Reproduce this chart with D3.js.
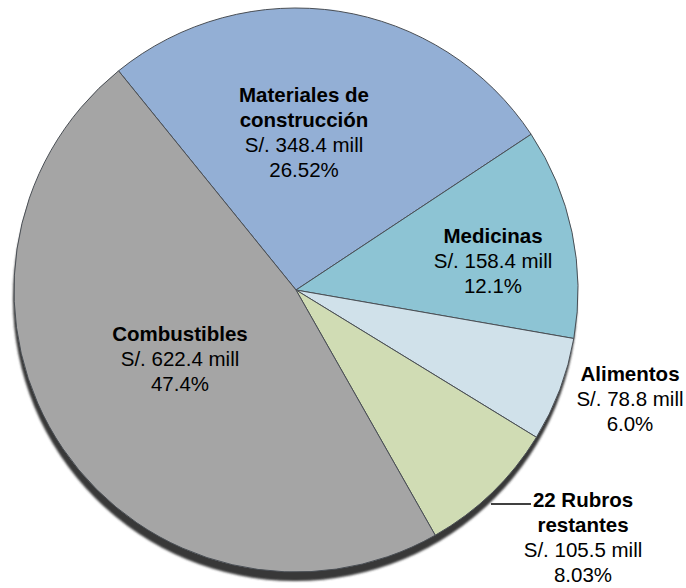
<!DOCTYPE html>
<html>
  <head>
    <meta charset="utf-8">
    <title>Pie</title>
    <script src="https://d3js.org/d3.v7.min.js"></script>
    <style>
      body { margin: 0; background: #fff; }
      #chart text { font-family: "Liberation Sans", Arial, sans-serif; font-size: 20.5px; fill: #000; text-anchor: middle; }
      #chart .name { font-weight: bold; }
    </style>
  </head>
  <body>
    <svg id="chart"></svg>
    <script>
      // data
      var categories = ["Materiales de construcción", "Medicinas", "Alimentos", "22 Rubros restantes", "Combustibles"];
      var values = [348.4, 158.4, 78.8, 105.5, 622.4];
      var pctLabels = ["26.52%", "12.1%", "6.0%", "8.03%", "47.4%"];
      var nameLines = [["Materiales de", "construcción"], ["Medicinas"], ["Alimentos"], ["22 Rubros", "restantes"], ["Combustibles"]];
      var colors = ["#93afd5", "#8dc4d4", "#d0e1ea", "#d0dcb4", "#a5a5a5"];

      var width = 686, height = 588;
      var cx = 296, cy = 290, r = 282;

      // label anchors (x, baseline of first line)
      var labelPos = [[304, 102], [493, 243], [630, 381], [583, 507], [180, 341]];

      var svg = d3.select("#chart")
          .attr("width", width)
          .attr("height", height);

      var defs = svg.append("defs");
      defs.append("filter").attr("id", "blur")
        .append("feGaussianBlur").attr("stdDeviation", 0.8);

      var g = svg.append("g").attr("transform", "translate(" + cx + "," + cy + ")");

      // shadow
      g.append("circle")
          .attr("cx", -1).attr("cy", 9).attr("r", r)
          .attr("fill", "#383838")
          .attr("filter", "url(#blur)");

      var pie = d3.pie().sort(null)
          .startAngle(-39 * Math.PI / 180)
          .endAngle(321 * Math.PI / 180);
      var arc = d3.arc().innerRadius(0).outerRadius(r);

      g.selectAll("path.slice")
          .data(pie(values))
          .enter().append("path")
          .attr("class", "slice")
          .attr("d", arc)
          .attr("fill", function(d, i) { return colors[i]; })
          .attr("stroke", "#4a4f55")
          .attr("stroke-width", 1);

      // leader line for 22 Rubros
      svg.append("line")
          .attr("x1", 491).attr("y1", 504)
          .attr("x2", 531).attr("y2", 504)
          .attr("stroke", "#000").attr("stroke-width", 1.3);

      var lineH = 25;
      var labels = svg.selectAll("g.lab")
          .data(categories)
          .enter().append("g")
          .attr("class", "lab");

      labels.each(function(d, i) {
        var el = d3.select(this);
        var x = labelPos[i][0], y = labelPos[i][1];
        var lines = nameLines[i];
        lines.forEach(function(t, k) {
          el.append("text").attr("class", "name").attr("x", x).attr("y", y + k * lineH).text(t);
        });
        var n = lines.length;
        el.append("text").attr("x", x).attr("y", y + n * lineH)
          .text("S/. " + values[i].toFixed(1) + " mill");
        el.append("text").attr("x", x).attr("y", y + (n + 1) * lineH)
          .text(pctLabels[i]);
      });
    </script>
  </body>
</html>
